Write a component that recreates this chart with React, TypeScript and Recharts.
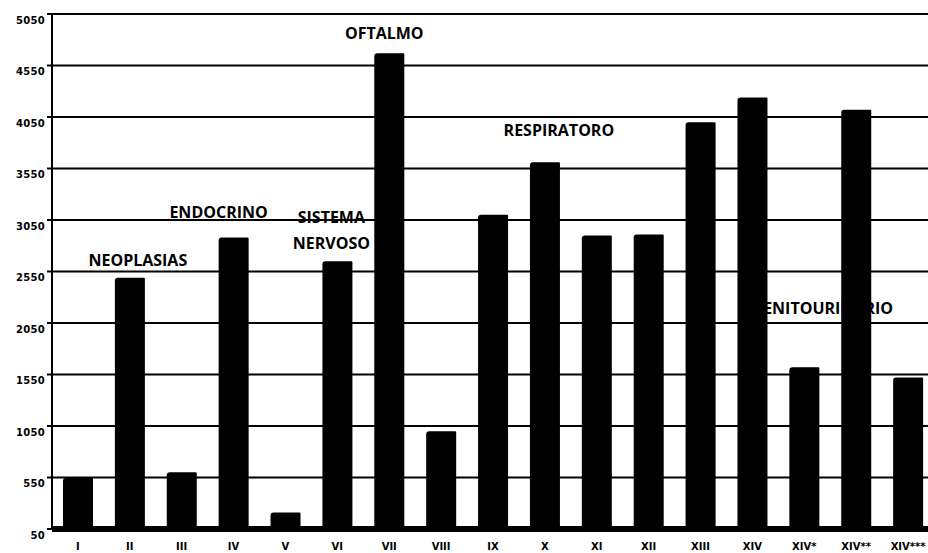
import { BarChart, Bar, XAxis, YAxis, CartesianGrid, ReferenceDot } from 'recharts'

// capítulos (eje X) y valores
const categories = ['I', 'II', 'III', 'IV', 'V', 'VI', 'VII', 'VIII', 'IX', 'X', 'XI', 'XII', 'XIII', 'XIV', 'XIV*', 'XIV**', 'XIV***']
const values = [545, 2490, 600, 2880, 210, 2650, 4670, 1000, 3100, 3610, 2900, 2910, 4000, 4240, 1620, 4120, 1520]
const yTicks = [50, 550, 1050, 1550, 2050, 2550, 3050, 3550, 4050, 4550, 5050]

// etiquetas de texto sobre el gráfico
const notes = [
  { lines: ['NEOPLASIAS'], cat: 'II', value: 2662, dx: 8 },
  { lines: ['ENDOCRINO'], cat: 'IV', value: 3128, dx: -15 },
  { lines: ['SISTEMA', 'NERVOSO'], cat: 'VI', value: 3079, dx: -6 },
  { lines: ['OFTALMO'], cat: 'VII', value: 4866, dx: -5 },
  { lines: ['RESPIRATORO'], cat: 'X', value: 3924, dx: 14 },
  { lines: ['GENITOURINARIO'], cat: 'XIV*', value: 2196, dx: 18 },
]

const data = categories.map((c, i) => ({ name: c, value: values[i] }))

const tickFont = { fontFamily: 'DejaVu Sans', fontWeight: 700, fontSize: 10, fill: '#000' }

function YTick({ x, y, payload }: any) {
  return (
    <text x={x} y={y + 6} textAnchor="end" dominantBaseline="central" letterSpacing={0.3} style={tickFont}>
      {payload.value}
    </text>
  )
}

function XTick({ x, y, payload }: any) {
  return (
    <text x={x} y={y + 9} textAnchor="middle" dominantBaseline="central" style={tickFont}>
      {payload.value}
    </text>
  )
}

function NoteLabel({ viewBox, note }: any) {
  const cx = viewBox.x + viewBox.width / 2 + note.dx
  const cy = viewBox.y + viewBox.height / 2
  return (
    <text
      x={cx}
      y={cy}
      textAnchor="middle"
      dominantBaseline="central"
      style={{ fontFamily: 'Open Sans', fontWeight: 700, fontSize: 16, fill: '#000' }}
    >
      {note.lines.map((l: string, i: number) => (
        <tspan key={l} x={cx} dy={i === 0 ? 0 : 26}>{l}</tspan>
      ))}
    </text>
  )
}

export default function App() {
  return (
    <div style={{ position: 'absolute', left: 0, top: 0, width: 928, height: 553, overflow: 'hidden', background: '#fff' }}>
      <BarChart width={934} height={553} data={data} margin={{ top: 14, right: 0, left: 0, bottom: 0 }} barSize={30}>
        <CartesianGrid horizontal vertical={false} stroke="#000" strokeWidth={2} />
        <XAxis
          dataKey="name"
          height={24}
          tickLine={false}
          axisLine={{ stroke: '#000', strokeWidth: 6 }}
          tick={<XTick />}
          interval={0}
        />
        <YAxis
          width={52}
          domain={[50, 5050]}
          ticks={yTicks}
          allowDataOverflow
          axisLine={{ stroke: '#000', strokeWidth: 2 }}
          tickLine={{ stroke: '#000', strokeWidth: 2 }}
          tickSize={5}
          tick={<YTick />}
        />
        {notes.map(n => (
          <ReferenceDot
            key={n.lines[0]}
            x={n.cat}
            y={n.value}
            r={1}
            fill="none"
            stroke="none"
            zIndex={50}
            label={{ content: (p: any) => <NoteLabel {...p} note={n} />, zIndex: 50 } as any}
          />
        ))}
        <Bar dataKey="value" fill="#000" radius={[3, 1, 0, 0]} isAnimationActive={false} />
      </BarChart>
    </div>
  )
}
